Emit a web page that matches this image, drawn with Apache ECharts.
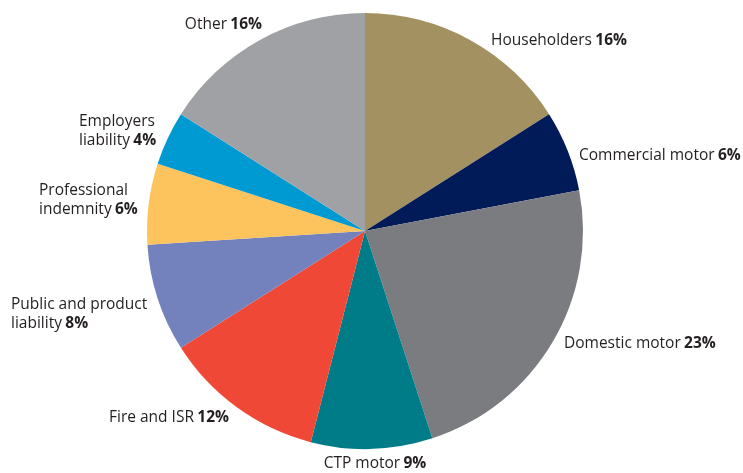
<!DOCTYPE html>
<html>
<head>
<meta charset="utf-8">
<script src="https://cdn.jsdelivr.net/npm/echarts@6/dist/echarts.min.js"></script>
<style>
html,body{margin:0;padding:0;background:#fff;}
#chart{width:743px;height:473px;}
</style>
</head>
<body>
<div id="chart"></div>
<script>
// Data
var categories = ['Householders', 'Commercial motor', 'Domestic motor', 'CTP motor', 'Fire and ISR', 'Public and product\nliability', 'Professional\nindemnity', 'Employers\nliability', 'Other'];
var shares = [16, 6, 23, 9, 12, 8, 6, 4, 16];

// Styles (kept apart from data)
var colors = ['#A39161', '#001B57', '#7B7C80', '#007C88', '#EF4837', '#7381BD', '#FDC35D', '#009AD2', '#A0A1A5'];
var labelPlace = [
  {x: 491, y: 41, align: 'left'},
  {x: 579, y: 156, align: 'left'},
  {x: 564, y: 344, align: 'left'},
  {x: 375, y: 464, align: 'center'},
  {x: 229, y: 418, align: 'right'},
  {x: 11, y: 314, align: 'left'},
  {x: 39, y: 200, align: 'left'},
  {x: 79, y: 131, align: 'left'},
  {x: 262, y: 25, align: 'right'}
];

var chart = echarts.init(document.getElementById('chart'), null, {renderer: 'canvas'});
var FONT = 'Open Sans';
chart.setOption({
  animation: false,
  series: [{
    type: 'pie',
    center: [365, 231],
    radius: 218,
    startAngle: 90,
    clockwise: true,
    avoidLabelOverlap: false,
    itemStyle: {borderWidth: 0},
    labelLine: {show: false},
    label: {
      show: true,
      position: 'outside',
      formatter: function (p) {
        return '{n|' + p.name.replace('\n', '}\n{n|') + '} {b|' + p.value + '%}';
      },
      rich: {
        n: {fontFamily: FONT, fontSize: 15.5, color: '#231F20', lineHeight: 19},
        b: {fontFamily: FONT, fontSize: 15.5, fontWeight: 'bold', color: '#231F20', lineHeight: 19}
      }
    },
    labelLayout: function (params) {
      var lp = labelPlace[params.dataIndex];
      return {x: lp.x, y: lp.y, align: lp.align, verticalAlign: 'middle'};
    },
    data: categories.map(function (c, i) {
      return {name: c, value: shares[i], itemStyle: {color: colors[i]}};
    })
  }]
});
</script>
</body>
</html>
